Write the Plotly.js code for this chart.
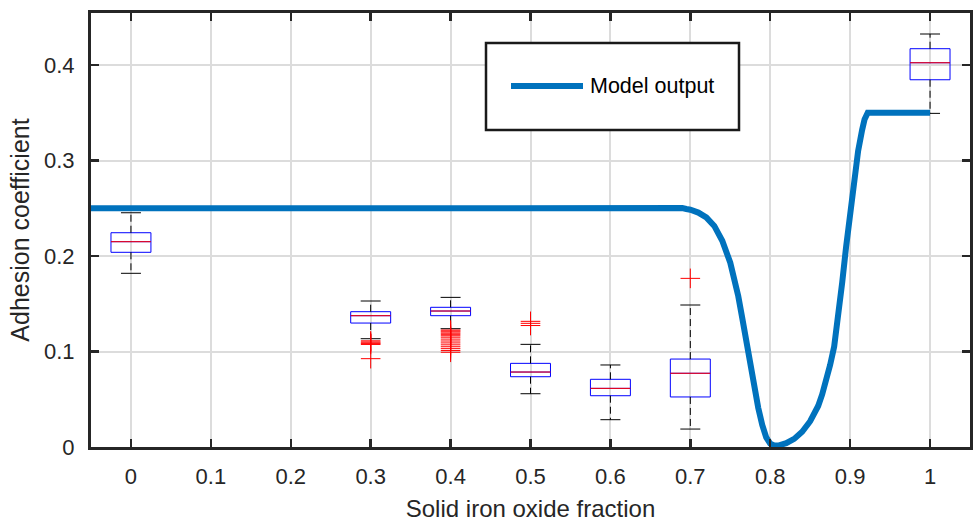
<!DOCTYPE html>
<html>
<head>
<meta charset="utf-8">
<script src="https://cdn.plot.ly/plotly-3.0.1.min.js"></script>
<style>html,body{margin:0;padding:0;background:#fff;}#chart{width:973px;height:524px;}</style>
</head>
<body>
<div id="chart"></div>
<script>
// ---- Data ----
const xTickVals = [0, 0.1, 0.2, 0.3, 0.4, 0.5, 0.6, 0.7, 0.8, 0.9, 1];
const xTickText = ['0', '0.1', '0.2', '0.3', '0.4', '0.5', '0.6', '0.7', '0.8', '0.9', '1'];
const yTickVals = [0, 0.1, 0.2, 0.3, 0.4];
const yTickText = ['0', '0.1', '0.2', '0.3', '0.4'];

// Model output curve
const modelX = [-0.05, 0.0, 0.1, 0.2, 0.3, 0.4, 0.5, 0.6, 0.65, 0.675, 0.68, 0.685, 0.69, 0.695, 0.70, 0.71, 0.72, 0.73, 0.74, 0.75, 0.755, 0.76, 0.765, 0.77, 0.775, 0.78, 0.785, 0.79, 0.795, 0.80, 0.805, 0.81, 0.815, 0.82, 0.83, 0.84, 0.85, 0.86, 0.865, 0.87, 0.875, 0.88, 0.885, 0.89, 0.895, 0.90, 0.905, 0.91, 0.915, 0.918, 0.922, 0.95, 1.0];
const modelY = [0.25, 0.25, 0.25, 0.25, 0.25, 0.2505, 0.2505, 0.2505, 0.2505, 0.2503, 0.2508, 0.2512, 0.2502, 0.2492, 0.2485, 0.2455, 0.2405, 0.2315, 0.2160, 0.1930, 0.1770, 0.1580, 0.1350, 0.1100, 0.0860, 0.0630, 0.0410, 0.0230, 0.0100, 0.0035, 0.0015, 0.0015, 0.0025, 0.0040, 0.0085, 0.0160, 0.0270, 0.0430, 0.0550, 0.0690, 0.0860, 0.1050, 0.1350, 0.1720, 0.2100, 0.2450, 0.2800, 0.3100, 0.3320, 0.3430, 0.3500, 0.3500, 0.3500];

// Box statistics (experiments)
const groups      = [0, 0.3, 0.4, 0.5, 0.6, 0.7, 1];
const q1          = [0.2039, 0.1298, 0.1375, 0.0736, 0.0537, 0.0524, 0.3846];
const medians     = [0.2150, 0.1375, 0.1424, 0.0785, 0.0614, 0.0772, 0.4024];
const q3          = [0.2244, 0.1417, 0.1463, 0.0876, 0.0709, 0.0921, 0.4171];
const whiskerLow  = [0.1819, 0.1134, 0.1239, 0.0558, 0.0286, 0.0188, 0.3494];
const whiskerHigh = [0.2453, 0.1529, 0.1567, 0.1075, 0.0859, 0.1487, 0.4325];

// Outliers
const outlierGroups = [0.3, 0.4, 0.5, 0.7];
const outliers03 = [0.1112, 0.1100, 0.1090, 0.1082, 0.1074, 0.0925];
const outliers04 = [0.1225, 0.1215, 0.1205, 0.1192, 0.1180, 0.1165, 0.1150, 0.1130, 0.1110, 0.1090, 0.1070, 0.1050, 0.1030, 0.1010, 0.0992];
const outliers05 = [0.1316, 0.1295, 0.1272];
const outliers07 = [0.1766];
const outlierSets = [outliers03, outliers04, outliers05, outliers07];

// ---- Build traces ----
const boxWidth = 0.05;
const capHalf = 0.0125;
const medHalf = boxWidth / 2;

const boxTrace = {
  type: 'box',
  x: groups,
  q1: q1,
  median: medians,
  q3: q3,
  lowerfence: q1,
  upperfence: q3,
  width: boxWidth,
  whiskerwidth: 0,
  fillcolor: 'rgba(0,0,0,0)',
  line: {color: '#0000FF', width: 1},
  boxpoints: false,
  hoverinfo: 'skip',
  showlegend: false
};

const wx = [], wy = [], cx = [], cy = [], mx = [], my = [];
groups.forEach((g, i) => {
  wx.push(g, g, null, g, g, null);
  wy.push(q3[i], whiskerHigh[i], null, q1[i], whiskerLow[i], null);
  cx.push(g - capHalf, g + capHalf, null, g - capHalf, g + capHalf, null);
  cy.push(whiskerHigh[i], whiskerHigh[i], null, whiskerLow[i], whiskerLow[i], null);
  mx.push(g - medHalf, g + medHalf, null);
  my.push(medians[i], medians[i], null);
});

const whiskerTrace = {type: 'scatter', mode: 'lines', x: wx, y: wy, line: {color: '#000', width: 1, dash: '7px,4px'}, hoverinfo: 'skip', showlegend: false};
const capTrace = {type: 'scatter', mode: 'lines', x: cx, y: cy, line: {color: '#000', width: 1}, hoverinfo: 'skip', showlegend: false};
const medianTrace = {type: 'scatter', mode: 'lines', x: mx, y: my, line: {color: '#FF0000', width: 1}, hoverinfo: 'skip', showlegend: false};

const ox = [], oy = [];
outlierGroups.forEach((g, i) => {
  outlierSets[i].forEach(v => { ox.push(g); oy.push(v); });
});
const outlierTrace = {type: 'scatter', mode: 'markers', x: ox, y: oy,
  marker: {symbol: 'cross-thin-open', size: 14, color: '#FF0000', line: {color: '#FF0000', width: 1}},
  hoverinfo: 'skip', showlegend: false};

const modelTrace = {type: 'scatter', mode: 'lines', name: 'Model output', x: modelX, y: modelY,
  line: {color: '#0072BD', width: 6, shape: 'linear'}, hoverinfo: 'skip', showlegend: false};

// ---- Layout ----
const fontFam = '"Liberation Sans", Arial, Helvetica, sans-serif';
const axColor = '#262626';
const plotL = 91, plotR = 970, plotT = 13, plotB = 447;
const pw = plotR - plotL, ph = plotB - plotT;
const px = v => (v - plotL) / pw;
const py = v => (plotB - v) / ph;

const layout = {
  width: 973, height: 524,
  margin: {l: plotL, r: 973 - plotR, t: plotT, b: 524 - plotB, pad: 0},
  paper_bgcolor: '#fff', plot_bgcolor: '#fff',
  font: {family: fontFam, color: axColor, size: 22},
  showlegend: false,
  xaxis: {
    range: [-0.05, 1.05], tickvals: xTickVals, ticktext: xTickText,
    showgrid: true, gridcolor: '#dcdcdc', gridwidth: 2, zeroline: false,
    showline: true, linecolor: axColor, linewidth: 3, mirror: 'ticks',
    ticks: 'inside', ticklen: 8, tickwidth: 2.5, tickcolor: axColor,
    tickfont: {size: 22, color: axColor}, ticklabelstandoff: 8,
    title: {text: 'Solid iron oxide fraction', font: {size: 24, color: axColor}, standoff: 12}
  },
  yaxis: {
    range: [0, 0.4545], tickvals: yTickVals, ticktext: yTickText,
    showgrid: true, gridcolor: '#dcdcdc', gridwidth: 2, zeroline: false,
    showline: true, linecolor: axColor, linewidth: 3, mirror: 'ticks',
    ticks: 'inside', ticklen: 8, tickwidth: 2.5, tickcolor: axColor,
    tickfont: {size: 22, color: axColor}, ticklabelstandoff: 9,
    title: {text: 'Adhesion coefficient', font: {size: 25, color: axColor}, standoff: 8}
  },
  shapes: [
    {type: 'rect', xref: 'paper', yref: 'paper', layer: 'above',
     x0: px(486), x1: px(739), y0: py(130), y1: py(43),
     fillcolor: '#fff', line: {color: '#1a1a1a', width: 2.5}},
    {type: 'line', xref: 'paper', yref: 'paper', layer: 'above',
     x0: px(511), x1: px(583), y0: py(86), y1: py(86),
     line: {color: '#0072BD', width: 6}}
  ],
  annotations: [
    {xref: 'paper', yref: 'paper', x: px(588), y: py(86), xanchor: 'left', yanchor: 'middle',
     text: 'Model output', showarrow: false, font: {size: 21.5, color: '#000'}}
  ]
};

Plotly.newPlot('chart', [boxTrace, whiskerTrace, capTrace, medianTrace, outlierTrace, modelTrace], layout, {displayModeBar: false, staticPlot: true});
</script>
</body>
</html>
